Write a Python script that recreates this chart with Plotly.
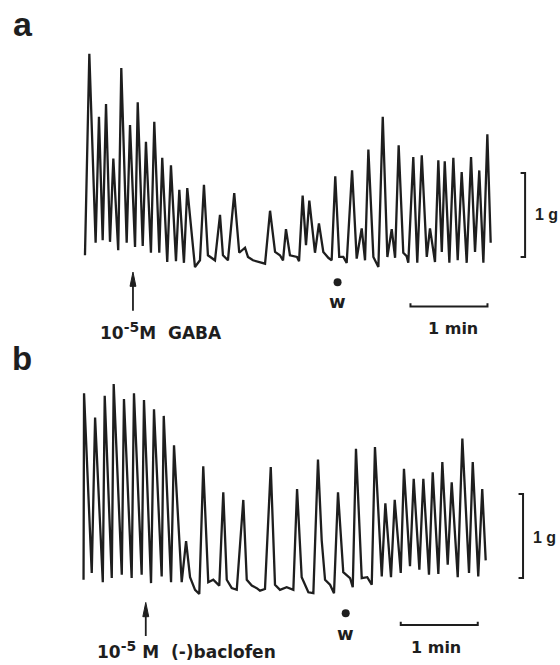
import plotly.graph_objects as go

# ---------------- data (time in s, tension in g) ----------------
a_time = [0, 3.4, 8.3, 10.9, 13.8, 16.4, 19.5, 22.1, 25.9, 28.3, 32.5, 35.1, 39.0, 41.1, 45.0,
          47.5, 51.4, 54.0, 57.9, 60.2, 64.1, 67.0, 70.9, 73.5, 77.1, 79.7, 85.7, 89.6, 92.7,
          95.8, 101.3, 105.2, 107.5, 111.4, 116.3, 120.2, 124.7, 127.0, 130.9, 136.4, 140.3,
          144.2, 148.1, 151.9, 154.3, 156.6, 159.7, 165.2, 166.8, 169.6, 172.2, 174.8, 179.2,
          182.3, 185.7, 189.6, 192.2, 195.0, 198.1, 201.3, 203.9, 208.1, 211.7, 215.6, 218.2,
          220.8, 224.7, 228.6, 232.0, 235.6, 239.0, 241.6, 244.4, 248.0, 250.6, 251.9, 255.8,
          258.9, 262.4, 266.3, 268.8, 272.7, 275.3, 278.0, 280.3, 283.9, 287.0, 290.4, 293.5,
          297.4, 300.8, 303.9, 307.2, 310.4, 313.5, 316.1]
a_tension = [0.14, 2.54, 0.29, 1.79, 0.32, 1.94, 0.30, 1.29, 0.20, 2.37, 0.29, 1.69, 0.24, 1.96, 0.25,
             1.49, 0.17, 1.73, 0.17, 1.30, 0.06, 1.21, 0.07, 0.92, 0.05, 0.94, 0.00, 0.08, 0.98,
             0.14, 0.08, 0.62, 0.14, 0.08, 0.88, 0.17, 0.23, 0.12, 0.08, 0.06, 0.04,
             0.67, 0.18, 0.14, 0.08, 0.45, 0.14, 0.12, 0.07, 0.85, 0.26, 0.79, 0.17,
             0.52, 0.18, 0.11, 0.08, 1.08, 0.12, 0.12, 0.05, 1.15, 0.10, 0.46, 0.08,
             1.40, 0.12, 0.00, 1.79, 0.12, 0.45, 0.11, 1.45, 0.17, 0.13, 0.05, 1.31,
             0.05, 1.33, 0.12, 0.46, 0.06, 1.27, 0.18, 1.26, 0.05, 1.30, 0.08, 1.13,
             0.05, 1.31, 0.18, 1.15, 0.05, 1.58, 0.29]

b_time = [0.4, 0.8, 6.8, 9.4, 15.4, 16.9, 22.4, 23.9, 30.2, 31.9, 37.9, 39.7, 45.7, 47.5, 53.0,
          55.3, 61.3, 62.9, 68.6, 70.9, 76.9, 80.3, 83.4, 87.3, 90.6, 93.7, 97.6, 101.5, 104.2,
          106.2, 109.3, 112.0, 115.9, 119.8, 124.9, 127.6, 131.5, 135.4, 137.9, 141.8, 146.3,
          149.6, 153.5, 158.7, 163.9, 166.8, 170.4, 175.6, 179.5, 183.1, 186.0, 188.6, 192.5,
          195.6, 198.7, 202.8, 208.1, 210.2, 212.7, 217.2, 221.5, 225.0, 227.5, 232.8, 235.6,
          240.0, 242.9, 247.6, 250.1, 254.8, 257.7, 262.1, 265.2, 269.6, 272.5, 276.9, 280.0,
          284.2, 287.3, 292.0, 295.6, 300.8, 303.7, 308.0, 311.1, 313.8]
b_tension = [0.17, 2.39, 0.25, 2.10, 0.14, 2.36, 0.19, 2.50, 0.23, 2.32, 0.19, 2.39, 0.23, 2.31, 0.13,
             2.20, 0.21, 2.12, 0.14, 1.77, 0.14, 0.63, 0.20, 0.05, 0.00, 1.52, 0.14, 0.17, 0.13,
             0.10, 1.21, 0.17, 0.07, 0.05, 1.12, 0.17, 0.10, 0.07, 0.04, 0.06, 1.51,
             0.11, 0.05, 0.08, 0.05, 1.25, 0.20, 0.02, 0.01, 1.60, 0.64, 0.17, 0.11,
             0.01, 1.21, 0.26, 0.19, 0.08, 1.73, 0.19, 0.20, 0.11, 1.75, 0.21, 1.08,
             0.20, 1.12, 0.25, 1.49, 0.33, 1.37, 0.29, 1.37, 0.23, 1.45, 0.24, 1.57,
             0.35, 1.33, 0.20, 1.85, 0.25, 1.57, 0.21, 1.25, 0.40]

# events (s)
a_drug_time = 37.4
a_wash_time = 196.8
b_drug_time = 48.9
b_wash_time = 204.7
a_drug_label = "<b>10<sup><span style='font-size:14px'>-5</span></sup>M  GABA</b>"
b_drug_label = "<b>10<sup><span style='font-size:14px'>-5</span></sup> M  (-)baclofen</b>"
time_bar_s = 60
force_bar_g = 1

# ---------------- figure ----------------
INK = "#1e1e1e"
FONT = "Liberation Sans, Arial, Helvetica, sans-serif"
WIDE = "DejaVu Sans, Verdana, sans-serif"

fig = go.Figure()
fig.add_trace(go.Scatter(x=a_time, y=a_tension, mode="lines", xaxis="x", yaxis="y",
                         line=dict(color=INK, width=2.3), hoverinfo="skip", showlegend=False))
fig.add_trace(go.Scatter(x=b_time, y=b_tension, mode="lines", xaxis="x2", yaxis="y2",
                         line=dict(color=INK, width=2.3), hoverinfo="skip", showlegend=False))

# washout dots
fig.add_trace(go.Scatter(x=[a_wash_time], y=[-0.18], mode="markers", xaxis="x", yaxis="y",
                         marker=dict(color=INK, size=8), hoverinfo="skip", showlegend=False))
fig.add_trace(go.Scatter(x=[b_wash_time], y=[-0.23], mode="markers", xaxis="x2", yaxis="y2",
                         marker=dict(color=INK, size=8), hoverinfo="skip", showlegend=False))

ax_common = dict(visible=False, showgrid=False, zeroline=False, fixedrange=True)
fig.update_layout(
    width=560, height=665,
    margin=dict(l=0, r=0, t=0, b=0),
    paper_bgcolor="white", plot_bgcolor="white",
    xaxis=dict(domain=[0, 1], range=[-66.2, 370.1], anchor="y", **ax_common),
    yaxis=dict(domain=[0, 1], range=[-4.738, 3.179], anchor="x", **ax_common),
    xaxis2=dict(domain=[0, 1], range=[-64.7, 371.7], anchor="y2", overlaying="x", **ax_common),
    yaxis2=dict(domain=[0, 1], range=[-0.845, 7.071], anchor="x2", overlaying="y", **ax_common),
    showlegend=False,
)

shapes = []
# time scale bars (with small upturned ends)
for xr, yr, t0, yb in [("x", "y", 253.6, -0.47), ("x2", "y2", 247.6, -0.37)]:
    shapes.append(dict(type="path", xref=xr, yref=yr,
                       path=f"M {t0},{yb+0.04} L {t0},{yb} L {t0+time_bar_s},{yb} L {t0+time_bar_s},{yb+0.04}",
                       line=dict(color=INK, width=2)))
# force brackets
for xr, yr, tx, y0 in [("x", "y", 342.9, 0.12), ("x2", "y2", 342.9, 0.19)]:
    shapes.append(dict(type="path", xref=xr, yref=yr,
                       path=f"M {tx-3.5},{y0+force_bar_g} L {tx},{y0+force_bar_g} L {tx},{y0} L {tx-3.5},{y0}",
                       line=dict(color=INK, width=2)))
# drug arrow shafts
for xr, yr, t, y0, y1 in [("x", "y", a_drug_time, -0.52, -0.15), ("x2", "y2", b_drug_time, -0.50, -0.19)]:
    shapes.append(dict(type="line", xref=xr, yref=yr, x0=t, x1=t, y0=y0, y1=y1,
                       line=dict(color=INK, width=1.8)))
# arrow heads
for xr, yr, t, yt in [("x", "y", a_drug_time, -0.06), ("x2", "y2", b_drug_time, -0.10)]:
    shapes.append(dict(type="path", xref=xr, yref=yr,
                       path=f"M {t-2.3},{yt-0.17} L {t},{yt} L {t+2.3},{yt-0.17} Z",
                       fillcolor=INK, line=dict(color=INK, width=1)))
fig.update_layout(shapes=shapes)

anns = []
# drug labels
anns.append(dict(x=10.0, y=-0.76, xref="x", yref="y", text=a_drug_label, showarrow=False,
                 xanchor="left", yanchor="middle", font=dict(family=WIDE, size=17, color=INK)))
anns.append(dict(x=9.3, y=-0.67, xref="x2", yref="y2", text=b_drug_label, showarrow=False,
                 xanchor="left", yanchor="middle", font=dict(family=WIDE, size=17, color=INK)))
# w labels
anns.append(dict(x=a_wash_time, y=-0.41, xref="x", yref="y", text="<b>w</b>", showarrow=False,
                 xanchor="center", yanchor="middle", font=dict(family=WIDE, size=18, color=INK)))
anns.append(dict(x=b_wash_time, y=-0.47, xref="x2", yref="y2", text="<b>w</b>", showarrow=False,
                 xanchor="center", yanchor="middle", font=dict(family=WIDE, size=18, color=INK)))
# 1 min labels
anns.append(dict(x=286.8, y=-0.73, xref="x", yref="y", text="<b>1 min</b>", showarrow=False,
                 xanchor="center", yanchor="middle", font=dict(family=WIDE, size=16, color=INK)))
anns.append(dict(x=274.7, y=-0.64, xref="x2", yref="y2", text="<b>1 min</b>", showarrow=False,
                 xanchor="center", yanchor="middle", font=dict(family=WIDE, size=16, color=INK)))
# 1 g labels
anns.append(dict(x=359.5, y=0.63, xref="x", yref="y", text="<b>1 g</b>", showarrow=False,
                 xanchor="center", yanchor="middle", font=dict(family=FONT, size=16, color=INK)))
anns.append(dict(x=360.0, y=0.67, xref="x2", yref="y2", text="<b>1 g</b>", showarrow=False,
                 xanchor="center", yanchor="middle", font=dict(family=FONT, size=16, color=INK)))
# panel letters
anns.append(dict(x=23 / 560, y=1 - 24 / 665, xref="paper", yref="paper", text="<b>a</b>",
                 xanchor="center", yanchor="middle",
                 showarrow=False, font=dict(family=FONT, size=34, color=INK)))
anns.append(dict(x=21.5 / 560, y=1 - 358 / 665, xref="paper", yref="paper", text="<b>b</b>",
                 xanchor="center", yanchor="middle",
                 showarrow=False, font=dict(family=FONT, size=33, color=INK)))
fig.update_layout(annotations=anns)

fig.write_html("out.html", config={"displayModeBar": False, "staticPlot": True},
               post_script="document.body.style.margin='0';")
